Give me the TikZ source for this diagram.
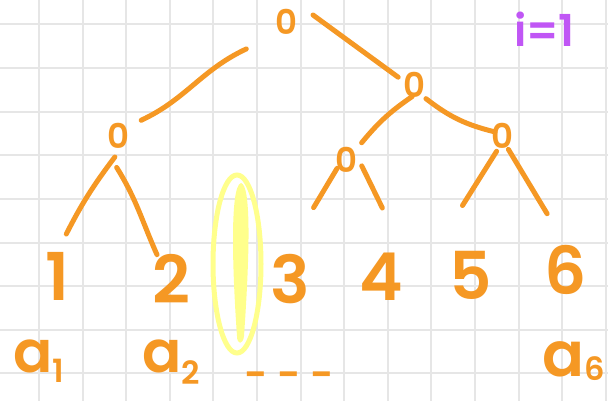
\documentclass[tikz,border=0pt]{standalone}
\usepackage{fontspec}
\setmainfont{Poppins}[BoldFont={Poppins SemiBold}]
\usetikzlibrary{calc}
\definecolor{ink}{RGB}{245,152,36}
\definecolor{pen}{RGB}{192,86,245}
\definecolor{marker}{RGB}{255,255,140}
\definecolor{gridline}{RGB}{230,230,230}
\newcommand{\lowidx}[2]{\raisebox{-#1}{\fontsize{32}{32}\selectfont #2}}

\begin{document}
\begin{tikzpicture}[x=1pt, y=-1pt,
    zero/.style={text=ink, font=\fontsize{34}{34}\selectfont\bfseries, inner sep=0pt},
    leaf/.style={text=ink, font=\fontsize{66}{66}\selectfont\bfseries, inner sep=0pt},
    elem/.style={text=ink, font=\fontsize{58}{58}\selectfont\bfseries, inner sep=0pt, anchor=base west},
    edge/.style={draw=ink, line width=5pt, line cap=round}]
    \useasboundingbox[fill=white] (0,0) rectangle (608,401);
    \foreach \i in {0,...,13}
        \draw[gridline, line width=2pt] (39+43.6*\i,0) -- (39+43.6*\i,401);
    \foreach \j in {0,...,8}
        \draw[gridline, line width=2pt] (0,24.5+43.6*\j) -- (608,24.5+43.6*\j);

    \node[zero] (root) at (286,22) {0};
    \node[zero] (lc) at (118,136) {0};
    \node[zero] (rc) at (414,85) {0};
    \node[zero] (rl) at (346,160) {0};
    \node[zero] (rr) at (502,136) {0};
    \node[leaf] (l1) at (57,276) {1};
    \node[leaf] (l2) at (171,279) {2};
    \node[leaf] (l3) at (290,279) {3};
    \node[leaf] (l4) at (381,277) {4};
    \node[leaf] (l5) at (471,275) {5};
    \node[leaf] (l6) at (566,270) {6};
    \node[elem] (a1) at (13,372) {a\lowidx{10pt}{1}};
    \node[elem] (a2) at (142,372) {a\lowidx{12pt}{2}};
    \node[elem, anchor=base] (gap) at (289,388) {\fontsize{40}{40}\selectfont - - -};
    \node[elem, font=\fontsize{62}{62}\selectfont\bfseries] (a6) at (542,376) {a\lowidx{4pt}{6}};
    \node[text=pen, font=\fontsize{44}{44}\selectfont\bfseries, inner sep=0pt, anchor=base west] (idx) at (514,47) {i=1};

    \draw[marker, line width=5pt] (237,264) ellipse [x radius=24, y radius=89];
    \fill[marker] (241,183) .. controls (251,185) and (250,250) .. (244,336)
        .. controls (243,345) and (237,345) .. (237,336)
        .. controls (233,280) and (229,186) .. (241,183) -- cycle;

    \draw[edge] ($(root)!48pt!(lc)$) to[out=205, in=25] ($(root)!175pt!(lc)$);
    \draw[edge] ($(root)+(27,-7)$) -- ($(root)!125pt!(rc)$);
    \draw[edge] ($(rc)!0.1!(rl)+(5,4)$) to[bend right=8] ($(rc)!0.77!(rl)$);
    \draw[edge] ($(rc)!0.17!(rr)+(-3,5)$) to[bend right=12] ($(rc)!0.92!(rr)$);
    \draw[edge] ($(lc)!0.15!(l1)+(6,0)$) to[out=233, in=63] ($(lc)!0.7!(l1)+(-9,0)$);
    \draw[edge] ($(lc)!0.22!(l2)+(-13,0)$) to[out=-58, in=114] ($(lc)!0.83!(l2)+(-5,0)$);
    \draw[edge] ($(rl)!0.07!(l3)+(-5,0)$) -- ($(rl)!0.4!(l3)+(-10,0)$);
    \draw[edge] ($(rl)!0.05!(l4)+(14,0)$) -- ($(rl)!0.41!(l4)+(22,0)$);
    \draw[edge] ($(rr)!0.11!(l5)+(-2,0)$) -- ($(rr)!0.5!(l5)+(-24,0)$);
    \draw[edge] ($(rr)!0.1!(l6)$) -- ($(rr)!0.58!(l6)+(8,0)$);
\end{tikzpicture}
\end{document}
